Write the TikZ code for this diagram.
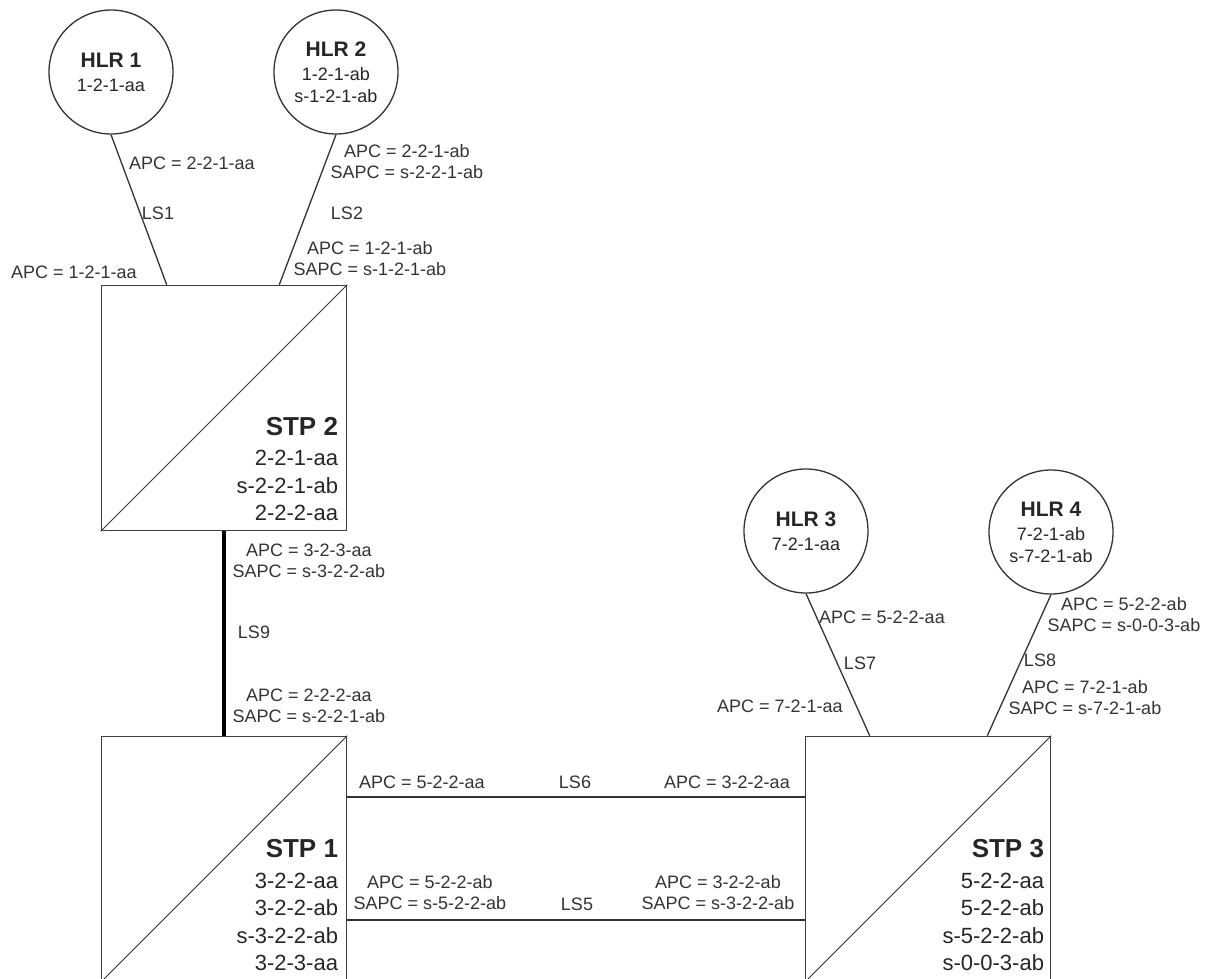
\documentclass[tikz,border=0pt]{standalone}
\usepackage{fontspec}
\setmainfont{Liberation Sans}
\usepackage{xcolor}
\usetikzlibrary{calc}
\usetikzlibrary{positioning}

\begin{document}
\begin{tikzpicture}[x=1pt,y=1pt,-,semithick,node distance=451pt]
  \tikzstyle{hlr}=[draw=black!80, circle, line width=1.3pt, minimum size=124pt, inner sep=0pt, align=center, text=black!85, font=\fontsize{18}{22}\selectfont]
  \tikzstyle{stp}=[draw=black!75, rectangle, line width=1.6pt, minimum size=245pt, inner sep=0pt]
  \tikzstyle{addr}=[inner sep=0pt, align=right, anchor=south east, text=black!85, font=\fontsize{22}{27.5}\selectfont]
  \tikzstyle{apc}=[inner sep=0pt, align=center, text=black!80, font=\fontsize{18}{21}\selectfont]
  \tikzstyle{link}=[draw=black!80, line width=1.3pt]
  \tikzstyle{diag}=[draw=black!80, line width=0.9pt]

  \useasboundingbox (0,0) rectangle (1211,-978);
  \clip (0,0) rectangle (1211,-978);

  % STPs
  \node[stp] (stp2) at (224,-408) {};
  \node[stp] (stp1) [below of=stp2] {};
  \node[stp] (stp3) [right of=stp1, node distance=704pt] {};
  \foreach \s in {stp1,stp2,stp3}{
    \draw[diag] (\s.south west) -- (\s.north east);
  }

  \node[addr] (stp2txt) at ([shift={(-9,10)}]stp2.south east)
    {{\bfseries\fontsize{26}{28}\selectfont STP 2}\\[3pt]2-2-1-aa\\s-2-2-1-ab\\2-2-2-aa};
  \node[addr] (stp1txt) at ([shift={(-9,11)}]stp1.south east)
    {{\bfseries\fontsize{26}{28}\selectfont STP 1}\\[3pt]3-2-2-aa\\3-2-2-ab\\s-3-2-2-ab\\3-2-3-aa};
  \node[addr] (stp3txt) at ([shift={(-7,11)}]stp3.south east)
    {{\bfseries\fontsize{26}{28}\selectfont STP 3}\\[3pt]5-2-2-aa\\5-2-2-ab\\s-5-2-2-ab\\s-0-0-3-ab};

  % HLRs
  \node[hlr] (hlr1) at (111,-72) {{\bfseries\fontsize{21}{22}\selectfont HLR 1}\\[2pt]1-2-1-aa};
  \node[hlr] (hlr2) at (336,-72) {{\bfseries\fontsize{21}{22}\selectfont HLR 2}\\[2pt]1-2-1-ab\\s-1-2-1-ab};
  \node[hlr] (hlr3) at (806,-531) {{\bfseries\fontsize{21}{22}\selectfont HLR 3}\\[2pt]7-2-1-aa};
  \node[hlr] (hlr4) at (1051,-532) {{\bfseries\fontsize{21}{22}\selectfont HLR 4}\\[2pt]7-2-1-ab\\s-7-2-1-ab};

  % link sets
  \draw[link] (hlr1.south) -- ([xshift=66pt]stp2.north west);
  \draw[link] (hlr2.south) -- ([xshift=-68pt]stp2.north east);
  \draw[link] (hlr3.south) -- ([xshift=65pt]stp3.north west);
  \draw[link] (hlr4.south) -- ([xshift=-64pt]stp3.north east);
  \draw[link, draw=black, line width=4pt] (stp2.south) -- (stp1.north);
  \draw[link] ([yshift=62pt]stp1.east) -- ([yshift=62pt]stp3.west);
  \draw[link] ([yshift=-61pt]stp1.east) -- ([yshift=-61pt]stp3.west);

  % point codes
  \node[apc] (ls1a) at (192,-163) {APC = 2-2-1-aa};
  \node[apc] (ls1) at (158,-213) {LS1};
  \node[apc] (ls1b) at (74,-272) {APC = 1-2-1-aa};

  \node[apc] (ls2a) at (407,-162) {APC = 2-2-1-ab\\SAPC = s-2-2-1-ab};
  \node[apc] (ls2) at (347,-213) {LS2};
  \node[apc] (ls2b) at (370,-259) {APC = 1-2-1-ab\\SAPC = s-1-2-1-ab};

  \node[apc] (ls9a) at (309,-561) {APC = 3-2-3-aa\\SAPC = s-3-2-2-ab};
  \node[apc] (ls9) at (254,-632) {LS9};
  \node[apc] (ls9b) at (309,-706) {APC = 2-2-2-aa\\SAPC = s-2-2-1-ab};

  \node[apc] (ls6a) at (422,-782) {APC = 5-2-2-aa};
  \node[apc] (ls6) at (575,-782) {LS6};
  \node[apc] (ls6b) at (727,-782) {APC = 3-2-2-aa};

  \node[apc] (ls5a) at (430,-893) {APC = 5-2-2-ab\\SAPC = s-5-2-2-ab};
  \node[apc] (ls5) at (577,-904) {LS5};
  \node[apc] (ls5b) at (718,-893) {APC = 3-2-2-ab\\SAPC = s-3-2-2-ab};

  \node[apc] (ls7a) at (882,-617) {APC = 5-2-2-aa};
  \node[apc] (ls7) at (860,-663) {LS7};
  \node[apc] (ls7b) at (780,-706) {APC = 7-2-1-aa};

  \node[apc] (ls8a) at (1124,-615) {APC = 5-2-2-ab\\SAPC = s-0-0-3-ab};
  \node[apc] (ls8) at (1040,-660) {LS8};
  \node[apc] (ls8b) at (1085,-698) {APC = 7-2-1-ab\\SAPC = s-7-2-1-ab};
\end{tikzpicture}
\end{document}
